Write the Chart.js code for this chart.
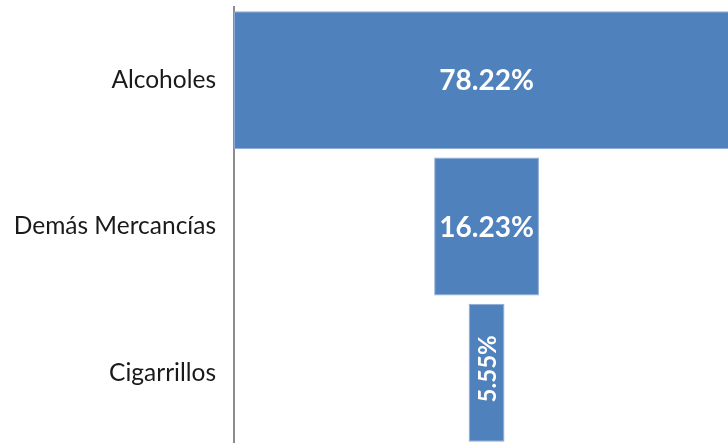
<!DOCTYPE html>
<html>
<head>
<meta charset="utf-8">
<script src="https://cdn.jsdelivr.net/npm/chart.js@4/dist/chart.umd.min.js"></script>
<style>
html,body{margin:0;padding:0;background:#fff;overflow:hidden;}
#wrap{width:728px;height:446px;}
</style>
</head>
<body>
<div id="wrap"><canvas id="c" width="728" height="446"></canvas></div>
<script>
const categories = ["Alcoholes", "Demás Mercancías", "Cigarrillos"];
const shares = [78.22, 16.23, 5.55];
const shareLabels = ["78.22%", "16.23%", "5.55%"];

const maxShare = Math.max(...shares);
const offsets = shares.map(v => (maxShare - v) / 2);

const FONT = "Lato, 'Open Sans', sans-serif";

const labelPlugin = {
  id: 'barLabels',
  afterDatasetsDraw(chart) {
    const ctx = chart.ctx;
    const meta = chart.getDatasetMeta(1);
    ctx.save();
    ctx.fillStyle = '#ffffff';
    ctx.textAlign = 'center';
    ctx.textBaseline = 'middle';
    meta.data.forEach((bar, i) => {
      const full = Math.abs(bar.x - bar.base);
      const cx = (bar.x + bar.base) / 2;
      const cy = bar.y;
      const txt = shareLabels[i];
      ctx.font = "bold 28px " + FONT;
      const w = ctx.measureText(txt).width;
      if (w + 8 > full) {
        ctx.font = "bold 24px " + FONT;
        ctx.save();
        ctx.translate(cx + 2, cy - 4);
        ctx.rotate(-Math.PI / 2);
        ctx.fillText(txt, 0, 0);
        ctx.restore();
      } else {
        ctx.fillText(txt, cx, cy + 1);
      }
    });
    ctx.restore();
  }
};

new Chart(document.getElementById('c'), {
  type: 'bar',
  data: {
    labels: categories,
    datasets: [
      {
        data: offsets,
        backgroundColor: 'rgba(0,0,0,0)',
        borderWidth: 0,
        categoryPercentage: 0.943,
        barPercentage: 1
      },
      {
        data: shares,
        backgroundColor: '#4F81BD',
        borderColor: '#8fabd3',
        borderWidth: 1,
        borderSkipped: false,
        categoryPercentage: 0.943,
        barPercentage: 1
      }
    ]
  },
  options: {
    indexAxis: 'y',
    responsive: false,
    animation: false,
    devicePixelRatio: 1,
    layout: { padding: { top: 7, bottom: 0, left: 0, right: 0 } },
    plugins: { legend: { display: false }, tooltip: { enabled: false } },
    scales: {
      x: {
        stacked: true,
        display: false,
        min: 0,
        max: 76.5
      },
      y: {
        stacked: true,
        grid: { display: false, drawTicks: false },
        border: { display: true, color: '#8c8c8c', width: 2 },
        ticks: {
          color: '#1a1a1a',
          padding: 18,
          font: { family: FONT, size: 24.5 }
        },
        afterFit(scale) {
          scale.width = 234;
          scale.paddingTop = 0;
          scale.paddingBottom = 0;
        }
      }
    }
  },
  plugins: [labelPlugin]
});
</script>
</body>
</html>
